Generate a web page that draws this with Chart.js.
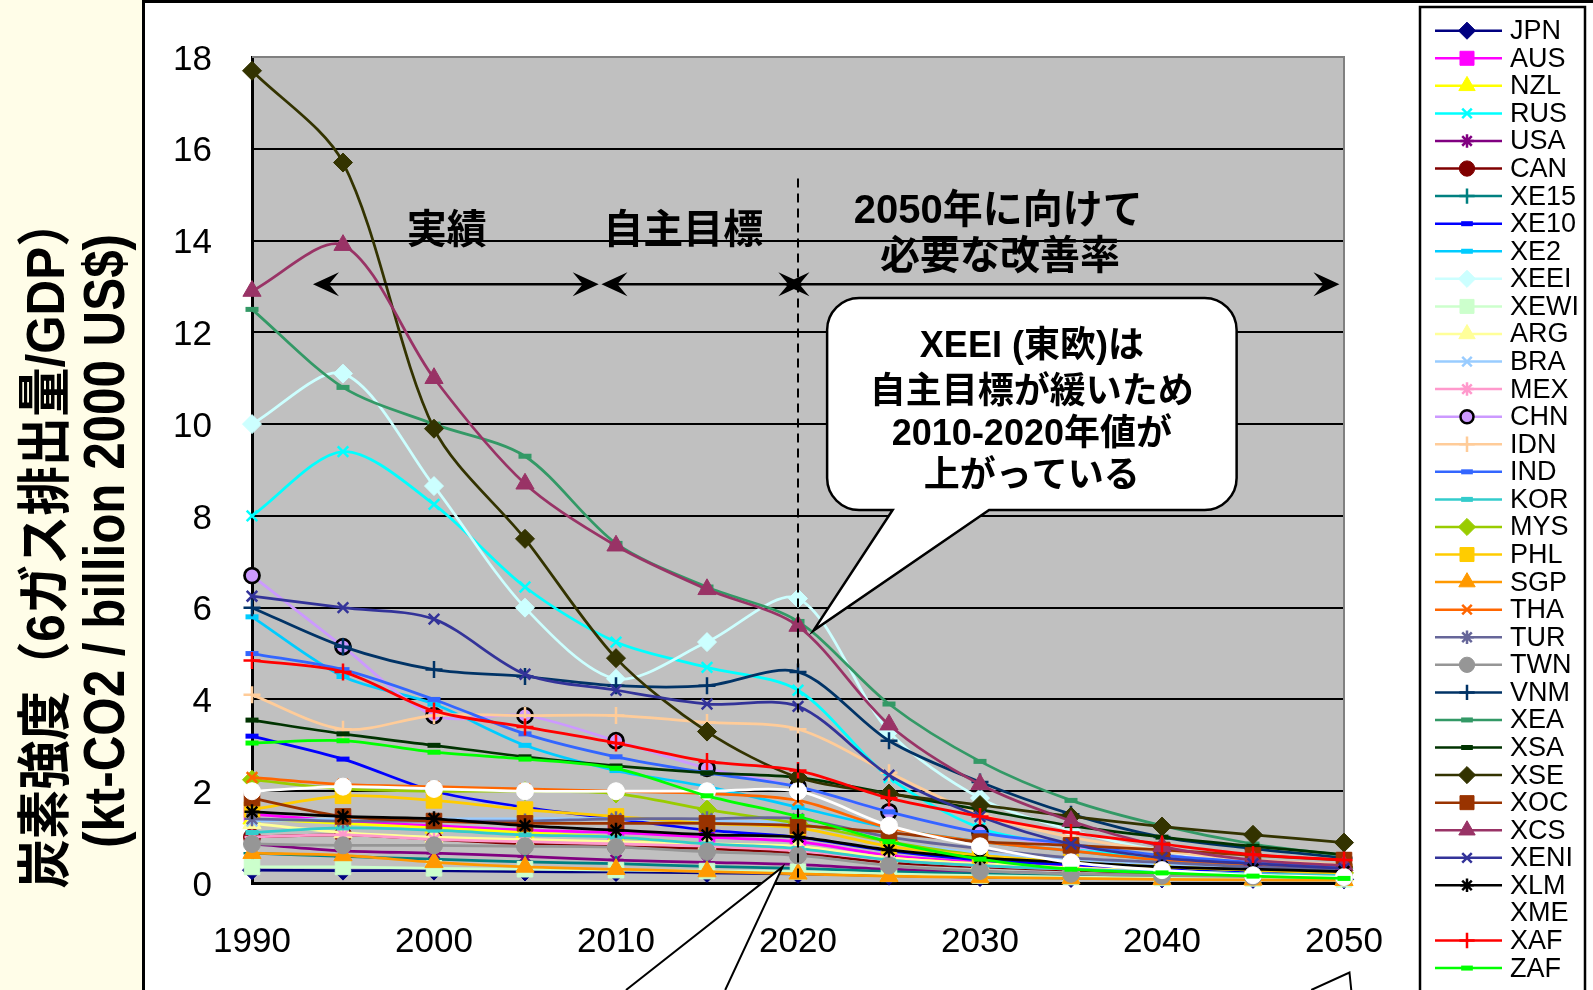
<!DOCTYPE html>
<html>
<head>
<meta charset="utf-8">
<script src="https://cdn.jsdelivr.net/npm/chart.js@4.4.1/dist/chart.umd.min.js"></script>
<style>
  html, body { margin: 0; padding: 0; background: #fff; overflow: hidden; }
  canvas { display: block; }
</style>
</head>
<body>
<canvas id="co2Chart" width="1593" height="990"></canvas>
<script>
// 年 (5年刻み)
const years = [1990, 1995, 2000, 2005, 2010, 2015, 2020, 2025, 2030, 2035, 2040, 2045, 2050];
const xTickYears = [1990, 2000, 2010, 2020, 2030, 2040, 2050];
const yTickValues = [0, 2, 4, 6, 8, 10, 12, 14, 16, 18];

// 炭素強度 (kt-CO2 / billion 2000 US$)
const JPN  = [0.28, 0.27, 0.27, 0.25, 0.24, 0.22, 0.2, 0.16, 0.13, 0.11, 0.1, 0.09, 0.08];
const AUS  = [1.5, 1.35, 1.25, 1.15, 1.1, 1.0, 0.9, 0.6, 0.45, 0.35, 0.28, 0.22, 0.18];
const NZL  = [1.4, 1.3, 1.2, 1.1, 1.0, 0.85, 0.75, 0.55, 0.42, 0.33, 0.26, 0.2, 0.16];
const RUS  = [8.0, 9.4, 8.25, 6.45, 5.25, 4.7, 4.2, 2.3, 1.2, 0.8, 0.5, 0.35, 0.25];
const USA  = [0.85, 0.7, 0.65, 0.58, 0.5, 0.45, 0.4, 0.3, 0.24, 0.2, 0.16, 0.14, 0.12];
const CAN  = [1.0, 1.05, 0.95, 0.85, 0.8, 0.75, 0.65, 0.45, 0.35, 0.28, 0.22, 0.18, 0.15];
const XE15 = [0.65, 0.58, 0.52, 0.46, 0.42, 0.36, 0.32, 0.25, 0.2, 0.17, 0.14, 0.12, 0.1];
const XE10 = [3.2, 2.7, 2.0, 1.65, 1.4, 1.15, 1.0, 0.7, 0.5, 0.4, 0.3, 0.25, 0.2];
const XE2  = [5.8, 4.5, 3.9, 3.0, 2.45, 2.1, 1.65, 1.2, 0.9, 0.7, 0.5, 0.4, 0.3];
const XEEI = [10.0, 11.1, 8.65, 6.0, 4.45, 5.25, 6.2, 3.3, 1.85, 1.15, 0.7, 0.45, 0.32];
const XEWI = [0.35, 0.35, 0.32, 0.3, 0.28, 0.26, 0.25, 0.2, 0.16, 0.13, 0.11, 0.1, 0.08];
const ARG  = [1.3, 1.1, 1.0, 0.95, 0.9, 0.85, 0.8, 0.55, 0.42, 0.33, 0.26, 0.2, 0.16];
const BRA  = [1.35, 1.4, 1.4, 1.4, 1.4, 1.35, 1.3, 0.9, 0.65, 0.5, 0.4, 0.32, 0.25];
const MEX  = [1.0, 1.05, 0.95, 0.9, 0.85, 0.8, 0.7, 0.5, 0.38, 0.3, 0.24, 0.2, 0.16];
const CHN  = [6.7, 5.15, 3.65, 3.65, 3.1, 2.5, 2.1, 1.55, 1.1, 0.8, 0.6, 0.45, 0.35];
const IDN  = [4.1, 3.35, 3.65, 3.65, 3.65, 3.5, 3.35, 2.4, 1.5, 1.0, 0.7, 0.5, 0.4];
const IND  = [5.0, 4.65, 4.0, 3.25, 2.75, 2.4, 2.1, 1.55, 1.1, 0.85, 0.6, 0.45, 0.35];
const KOR  = [1.1, 1.2, 1.15, 1.05, 1.0, 0.85, 0.75, 0.5, 0.38, 0.3, 0.24, 0.2, 0.16];
const MYS  = [2.25, 2.05, 2.0, 2.0, 1.95, 1.6, 1.3, 0.9, 0.6, 0.45, 0.35, 0.28, 0.22];
const PHL  = [1.6, 1.9, 1.8, 1.6, 1.45, 1.3, 1.2, 0.8, 0.6, 0.45, 0.35, 0.28, 0.22];
const SGP  = [0.65, 0.6, 0.45, 0.35, 0.3, 0.25, 0.2, 0.15, 0.12, 0.1, 0.08, 0.07, 0.06];
const THA  = [2.3, 2.15, 2.1, 2.05, 2.0, 1.95, 1.8, 1.2, 0.9, 0.7, 0.5, 0.4, 0.3];
const TUR  = [1.4, 1.35, 1.35, 1.35, 1.4, 1.4, 1.4, 1.0, 0.75, 0.55, 0.45, 0.35, 0.3];
const TWN  = [0.85, 0.82, 0.82, 0.8, 0.78, 0.68, 0.6, 0.38, 0.26, 0.2, 0.16, 0.14, 0.12];
const VNM  = [6.0, 5.15, 4.65, 4.5, 4.3, 4.3, 4.6, 3.1, 2.2, 1.5, 1.0, 0.75, 0.55];
const XEA  = [12.5, 10.8, 10.0, 9.3, 7.4, 6.45, 5.7, 3.9, 2.65, 1.8, 1.25, 0.85, 0.6];
const XSA  = [3.55, 3.25, 3.0, 2.75, 2.55, 2.4, 2.3, 1.95, 1.6, 1.25, 1.0, 0.8, 0.62];
const XSE  = [17.7, 15.7, 9.9, 7.5, 4.9, 3.3, 2.3, 1.95, 1.7, 1.45, 1.23, 1.05, 0.88];
const XOC  = [1.85, 1.45, 1.35, 1.3, 1.3, 1.3, 1.25, 1.1, 0.9, 0.82, 0.72, 0.6, 0.5];
const XCS  = [12.9, 13.9, 11.0, 8.7, 7.35, 6.4, 5.6, 3.45, 2.15, 1.35, 0.8, 0.5, 0.38];
const XENI = [6.25, 6.0, 5.75, 4.55, 4.2, 3.9, 3.85, 2.35, 1.45, 0.85, 0.55, 0.42, 0.32];
const XLM  = [1.55, 1.45, 1.4, 1.25, 1.15, 1.05, 1.0, 0.72, 0.55, 0.45, 0.35, 0.3, 0.25];
const XME  = [2.0, 2.1, 2.05, 2.0, 2.0, 2.0, 2.0, 1.25, 0.8, 0.45, 0.28, 0.17, 0.13];
const XAF  = [4.85, 4.6, 3.75, 3.4, 3.05, 2.65, 2.45, 1.85, 1.45, 1.1, 0.85, 0.62, 0.5];
const ZAF  = [3.05, 3.1, 2.85, 2.7, 2.5, 1.9, 1.45, 0.9, 0.52, 0.3, 0.22, 0.15, 0.1];

const seriesNames = ['JPN','AUS','NZL','RUS','USA','CAN','XE15','XE10','XE2','XEEI','XEWI','ARG','BRA','MEX',
  'CHN','IDN','IND','KOR','MYS','PHL','SGP','THA','TUR','TWN','VNM','XEA','XSA','XSE','XOC','XCS','XENI',
  'XLM','XME','XAF','ZAF'];
const seriesValues = [JPN, AUS, NZL, RUS, USA, CAN, XE15, XE10, XE2, XEEI, XEWI, ARG, BRA, MEX,
  CHN, IDN, IND, KOR, MYS, PHL, SGP, THA, TUR, TWN, VNM, XEA, XSA, XSE, XOC, XCS, XENI,
  XLM, XME, XAF, ZAF];

// 見た目 (Excel の既定パレット)
const seriesColors = ['#000080','#FF00FF','#FFFF00','#00FFFF','#800080','#800000','#008080','#0000FF','#00CCFF',
  '#CCFFFF','#CCFFCC','#FFFF99','#99CCFF','#FF99CC','#CC99FF','#FFCC99','#3366FF','#33CCCC','#99CC00',
  '#FFCC00','#FF9900','#FF6600','#666699','#969696','#003366','#339966','#003300','#333300','#993300',
  '#993366','#333399','#000000','#FFFFFF','#FF0000','#00FF00'];
const seriesMarkers = ['diamond','square','triangle','x','star','circle','plus','dash','dash','diamond','square',
  'triangle','x','star','circle','plus','dash','dash','diamond','square','triangle','x','star','circle','plus',
  'dash','dash','diamond','square','triangle','x','star','circle','plus','dash'];

const markerSpec = {
  diamond:  { style: 'rectRot',  r: 9.5,  bw: 1 },
  square:   { style: 'rect',     r: 11,   bw: 1 },
  triangle: { style: 'triangle', r: 10.5, bw: 1 },
  x:        { style: 'crossRot', r: 7.5,  bw: 2.5 },
  star:     { style: 'star',     r: 7.5,  bw: 2.5 },
  circle:   { style: 'circle',   r: 8.5,  bw: 1 },
  plus:     { style: 'cross',    r: 8.5,  bw: 2.5 },
  dash:     { style: 'line',     r: 6.5,  bw: 5 }
};

const FONT = "'Liberation Sans', Arial, sans-serif";
const JFONT = "'Liberation Sans', 'Noto Sans CJK JP', sans-serif";

function buildDatasets() {
  return seriesNames.map((name, i) => {
    const m = markerSpec[seriesMarkers[i]];
    const col = seriesColors[i];
    const isChn = name === 'CHN';
    return {
      label: name,
      data: years.map((yr, j) => ({ x: yr, y: seriesValues[i][j] })),
      borderColor: col,
      backgroundColor: col,
      borderWidth: 2.75,
      tension: 0.3,
      pointStyle: m.style,
      pointRadius: isChn ? 7.5 : m.r,
      pointBorderWidth: isChn ? 2.75 : m.bw,
      pointBackgroundColor: col,
      pointBorderColor: isChn ? '#000' : col,
      order: -i,
      clip: false
    };
  });
}

// 背景・枠
const backdrop = {
  id: 'backdrop',
  beforeDraw(chart) {
    const { ctx, chartArea: a } = chart;
    ctx.save();
    ctx.fillStyle = '#fff';
    ctx.fillRect(0, 0, chart.width, chart.height);
    ctx.fillStyle = '#FFFDE8';
    ctx.fillRect(0, 0, 142, chart.height);
    ctx.strokeStyle = '#000';
    ctx.lineWidth = 3;
    ctx.beginPath();
    ctx.moveTo(143.5, 0); ctx.lineTo(143.5, chart.height);
    ctx.moveTo(142, 1.5); ctx.lineTo(chart.width, 1.5);
    ctx.stroke();
    ctx.fillStyle = '#C0C0C0';
    ctx.fillRect(a.left, a.top, a.right - a.left, a.bottom - a.top);
    ctx.restore();
  },
  beforeDatasetsDraw(chart) {
    const { ctx, chartArea: a } = chart;
    ctx.save();
    ctx.strokeStyle = '#808080';
    ctx.lineWidth = 2;
    ctx.beginPath();
    ctx.moveTo(a.left, a.top); ctx.lineTo(a.right, a.top); ctx.lineTo(a.right, a.bottom);
    ctx.stroke();
    ctx.restore();
  }
};

function arrowHead(ctx, x, y, dir) {
  // stealth arrow, dir = -1 points left, 1 points right
  ctx.beginPath();
  ctx.moveTo(x, y);
  ctx.lineTo(x - dir * 26, y - 12);
  ctx.lineTo(x - dir * 16, y);
  ctx.lineTo(x - dir * 26, y + 12);
  ctx.closePath();
  ctx.fill();
}

function scaledText(ctx, text, bx, cy, len, font) {
  ctx.save();
  ctx.translate(bx, cy);
  ctx.rotate(-Math.PI / 2);
  ctx.font = font;
  const w = ctx.measureText(text).width;
  ctx.scale(len / w, 1);
  ctx.textAlign = 'center';
  ctx.textBaseline = 'alphabetic';
  ctx.fillText(text, 0, 0);
  ctx.restore();
}

// 注記・凡例
const notes = {
  id: 'notes',
  afterDraw(chart) {
    const { ctx } = chart;
    const xs = chart.scales.x, ys = chart.scales.y;
    const px = v => xs.getPixelForValue(v);
    const py = v => ys.getPixelForValue(v);
    ctx.save();

    // 2020 の破線
    ctx.strokeStyle = '#000';
    ctx.lineWidth = 2;
    ctx.setLineDash([9, 6]);
    ctx.beginPath();
    ctx.moveTo(px(2020), py(15.35));
    ctx.lineTo(px(2020), py(0));
    ctx.stroke();
    ctx.setLineDash([]);

    // 矢印
    const ay = py(13.05);
    [[1993.35, 2009.05], [2009.2, 2020.35], [2019.2, 2049.75]].forEach(([a, b]) => {
      ctx.lineWidth = 2.5;
      ctx.beginPath();
      ctx.moveTo(px(a) + 10, ay); ctx.lineTo(px(b) - 10, ay);
      ctx.stroke();
      ctx.fillStyle = '#000';
      arrowHead(ctx, px(a), ay, -1);
      arrowHead(ctx, px(b), ay, 1);
    });

    ctx.fillStyle = '#000';
    ctx.textAlign = 'center';
    ctx.textBaseline = 'middle';
    ctx.font = 'bold 40px ' + JFONT;
    ctx.fillText('実績', px(2000.7), py(14.18));
    ctx.fillText('自主目標', px(2013.7), py(14.18));
    ctx.fillText('2050年に向けて', px(2031.0), py(14.62));
    ctx.fillText('必要な改善率', px(2031.1), py(13.62));

    // 吹き出し
    const L = px(2021.6), R = px(2044.1), T = py(12.75), B = py(8.13), rad = 32;
    const t1 = px(2025.2), t2 = px(2030.5), tipX = px(2020.85), tipY = py(5.5);
    ctx.beginPath();
    ctx.moveTo(L + rad, T);
    ctx.lineTo(R - rad, T);
    ctx.arcTo(R, T, R, T + rad, rad);
    ctx.lineTo(R, B - rad);
    ctx.arcTo(R, B, R - rad, B, rad);
    ctx.lineTo(t2, B);
    ctx.lineTo(tipX, tipY);
    ctx.lineTo(t1, B);
    ctx.lineTo(L + rad, B);
    ctx.arcTo(L, B, L, B - rad, rad);
    ctx.lineTo(L, T + rad);
    ctx.arcTo(L, T, L + rad, T, rad);
    ctx.closePath();
    ctx.fillStyle = '#fff';
    ctx.fill();
    ctx.lineWidth = 2.5;
    ctx.strokeStyle = '#000';
    ctx.stroke();

    ctx.fillStyle = '#000';
    ctx.font = 'bold 36px ' + JFONT;
    const cx = (L + R) / 2;
    ctx.fillText('XEEI (東欧)は', cx, py(11.68));
    ctx.fillText('自主目標が緩いため', cx, py(10.68));
    ctx.fillText('2010-2020年値が', cx, py(9.76));
    ctx.fillText('上がっている', cx, py(8.85));

    // 下側の吹き出しの尾
    const H = chart.height;
    ctx.beginPath();
    ctx.moveTo(px(2010.55), H);
    ctx.lineTo(px(2019.15), py(0.35));
    ctx.lineTo(px(2016.0), H);
    ctx.closePath();
    ctx.fillStyle = '#fff';
    ctx.fill();
    ctx.beginPath();
    ctx.moveTo(px(2010.55), H);
    ctx.lineTo(px(2019.15), py(0.35));
    ctx.lineTo(px(2016.0), H);
    ctx.lineWidth = 2;
    ctx.stroke();

    ctx.beginPath();
    ctx.moveTo(px(2048.2), H);
    ctx.lineTo(px(2050.3), py(-1.95));
    ctx.lineTo(px(2050.4), H);
    ctx.fill();
    ctx.stroke();

    // 縦軸タイトル
    ctx.fillStyle = '#000';
    scaledText(ctx, '炭素強度（6ガス排出量/GDP）', 64, 543, 691, 'bold 54px ' + JFONT);
    scaledText(ctx, '(kt-CO2 / billion 2000 US$)', 124, 541, 614, 'bold 58px ' + FONT);

    // 凡例
    ctx.lineWidth = 2.5;
    ctx.strokeStyle = '#000';
    ctx.fillStyle = '#fff';
    ctx.fillRect(1420, 7, 165, chart.height);
    ctx.strokeRect(1420, 7, 165, chart.height);
    const y0 = 30.7, dy = 27.57;
    seriesNames.forEach((name, i) => {
      const y = y0 + i * dy;
      const col = seriesColors[i];
      const m = markerSpec[seriesMarkers[i]];
      const isChn = name === 'CHN';
      ctx.strokeStyle = col;
      ctx.lineWidth = 2.5;
      ctx.beginPath();
      ctx.moveTo(1435, y); ctx.lineTo(1502, y);
      ctx.stroke();
      ctx.fillStyle = col;
      ctx.strokeStyle = isChn ? '#000' : col;
      ctx.lineWidth = isChn ? 2.5 : m.bw;
      Chart.helpers.drawPoint(ctx, {
        pointStyle: m.style, rotation: 0,
        radius: isChn ? 6.5 : m.r * 0.9, borderWidth: isChn ? 2.5 : m.bw
      }, 1467, y);
      ctx.fillStyle = '#000';
      ctx.font = '27px ' + FONT;
      ctx.textAlign = 'left';
      ctx.textBaseline = 'middle';
      ctx.fillText(name, 1510, y + 1);
    });

    ctx.restore();
  }
};

function renderChart() {
  const ctx = document.getElementById('co2Chart').getContext('2d');
  new Chart(ctx, {
    type: 'line',
    data: { datasets: buildDatasets() },
    options: {
      responsive: false,
      animation: false,
      devicePixelRatio: 1,
      events: [],
      layout: { padding: { left: 145, top: 57, right: 249, bottom: 0 } },
      plugins: { legend: { display: false }, tooltip: { enabled: false } },
      scales: {
        x: {
          type: 'linear',
          min: 1990,
          max: 2050,
          afterBuildTicks: s => { s.ticks = xTickYears.map(v => ({ value: v })); },
          ticks: {
            color: '#000',
            font: { size: 35, family: FONT },
            padding: 38,
            maxRotation: 0,
            autoSkip: false,
            callback: v => String(v)
          },
          grid: { display: false, drawTicks: false },
          border: { color: '#000', width: 3 },
          afterFit: s => { s.height = 107; s.paddingLeft = 0; s.paddingRight = 0; }
        },
        y: {
          min: 0,
          max: 18,
          afterBuildTicks: s => { s.ticks = yTickValues.map(v => ({ value: v })); },
          ticks: {
            color: '#000',
            font: { size: 35, family: FONT },
            padding: 40,
            labelOffset: 3,
            callback: v => String(v)
          },
          grid: {
            color: c => (c.tick && c.tick.value === 18) ? '#808080' : '#000',
            lineWidth: 2,
            drawTicks: false
          },
          border: { color: '#000', width: 3 },
          afterFit: s => { s.width = 107; s.paddingTop = 0; s.paddingBottom = 0; }
        }
      }
    },
    plugins: [backdrop, notes]
  });
}

window.onload = renderChart;
</script>
</body>
</html>
